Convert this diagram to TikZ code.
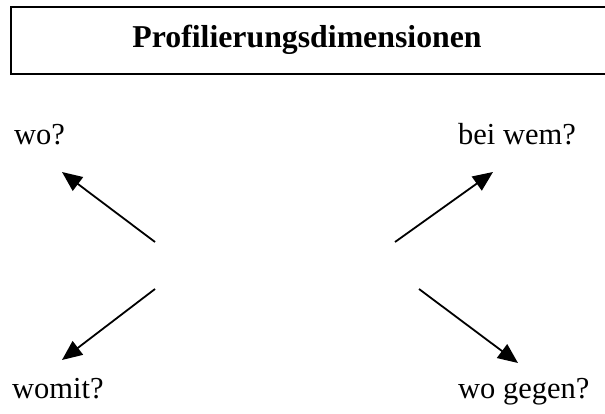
\documentclass[tikz,border=0pt]{standalone}
\usepackage{fontspec}
\setmainfont{Liberation Serif}
\usetikzlibrary{arrows.meta}
\begin{document}
\begin{tikzpicture}[x=1pt,y=-1pt,
  lbl/.style={anchor=base west,inner sep=0pt,font=\fontsize{30.5}{34}\selectfont},
  ttl/.style={anchor=base,inner sep=0pt,font=\fontsize{31.8}{36}\selectfont\bfseries},
  arr/.style={line width=1.8pt,-{Triangle[length=20pt,width=17pt]}},
  frame/.style={draw,line width=2pt}]
\useasboundingbox (0,0) rectangle (605,414);
\draw[frame] (11,7) rectangle (640,74);
\node[ttl] (title) at (307,48) {Profilierungsdimensionen};
\node[lbl] (wo) at (14,145) {wo?};
\node[lbl] (beiwem) at (458,145) {bei wem?};
\node[lbl] (womit) at (12,398) {womit?};
\node[lbl] (wogegen) at (458,398) {wo gegen?};
\coordinate (s1) at (155,242);
\coordinate (t1) at (62,172);
\coordinate (s2) at (395,242);
\coordinate (t2) at (493,172);
\coordinate (s3) at (155,289);
\coordinate (t3) at (62,360);
\coordinate (s4) at (419,289);
\coordinate (t4) at (518,363);
\draw[arr] (s1) -- (t1);
\draw[arr] (s2) -- (t2);
\draw[arr] (s3) -- (t3);
\draw[arr] (s4) -- (t4);
\end{tikzpicture}
\end{document}
